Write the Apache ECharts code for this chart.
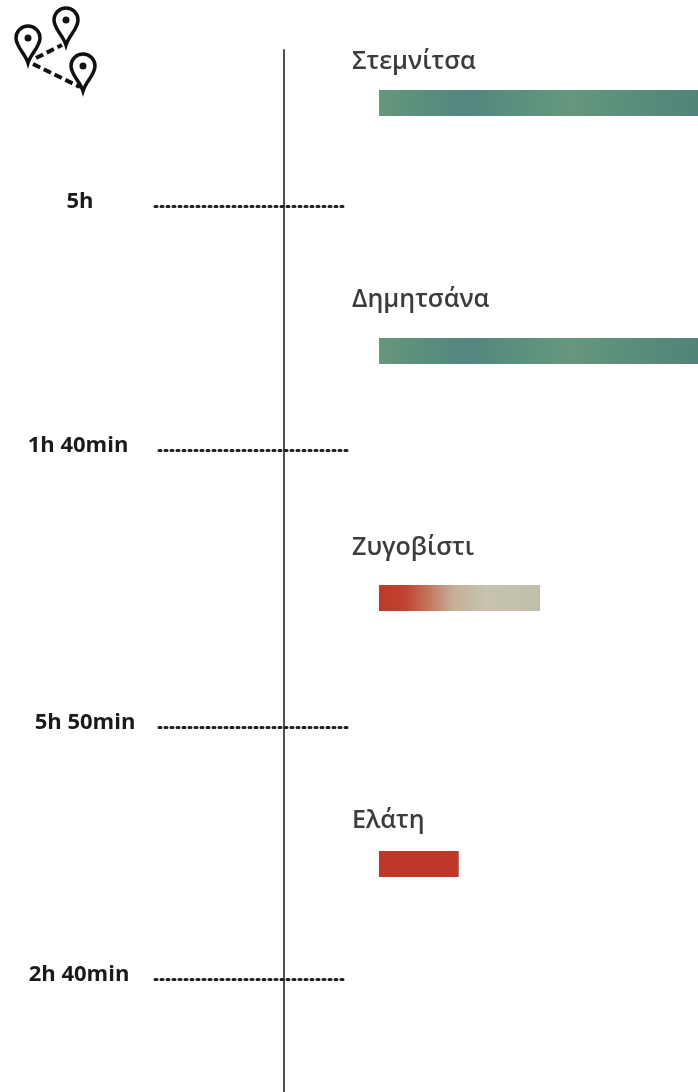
<!DOCTYPE html>
<html>
<head>
<meta charset="utf-8">
<style>
  html, body { margin: 0; padding: 0; background: #fff; }
  #chart { width: 698px; height: 1092px; }
</style>
<script src="https://cdn.jsdelivr.net/npm/echarts@6/dist/echarts.min.js"></script>
</head>
<body>
<div id="chart"></div>
<script>
// Data
const towns = ['Στεμνίτσα', 'Δημητσάνα', 'Ζυγοβίστι', 'Ελάτη']
const barLengths = [100, 100, 50.5, 25]
const legLabels = ['5h', '1h 40min', '5h 50min', '2h 40min']

// Layout, in page pixels
const barTop = [90, 338, 585, 851]
const barHeight = 26
const labelTop = [-28, -38, -37, -30]
const legY = [206, 450, 727, 979]
const legLeft = [155, 159, 159, 155]
const legLabelX = [80, 78, 85, 79]

// Bar colours, left to right
const greenStops = [
  [0, '#65977b'], [0.1, '#5c917c'], [0.27, '#528680'], [0.42, '#5a8f7e'],
  [0.6, '#66987e'], [0.8, '#598d7b'], [1, '#528379']
]
const fadeStops = [
  [0, '#bd3a28'], [0.16, '#bf4331'], [0.32, '#c47a62'], [0.46, '#c6ae97'],
  [0.66, '#c6c3ae'], [1, '#c1bea9']
]
const redStops = [[0, '#bd3829'], [1, '#bd3829']]
const barStops = [greenStops, greenStops, fadeStops, redStops]

const gradient = stops => new echarts.graphic.LinearGradient(0, 0, 1, 0,
  stops.map(s => ({ offset: s[0], color: s[1] })))

const chart = echarts.init(document.getElementById('chart'), null, { renderer: 'canvas' })

const grid = []
const xAxis = []
const yAxis = []
const series = []

// Route line
grid.push({ left: 284, width: 1, top: 50, bottom: 0 })
xAxis.push({ gridIndex: 0, type: 'value', show: false })
yAxis.push({
  gridIndex: 0, type: 'value', min: 0, max: 1,
  axisLine: { show: true, lineStyle: { color: '#4f4f4f', width: 2 } },
  axisTick: { show: false }, axisLabel: { show: false }, splitLine: { show: false }
})

// One grid per town
towns.forEach((town, i) => {
  const idx = grid.length
  grid.push({ left: 379, right: 0, top: barTop[i], height: barHeight })
  xAxis.push({ gridIndex: idx, type: 'value', min: 0, max: 100, show: false })
  yAxis.push({ gridIndex: idx, type: 'category', data: [town], show: false })
  series.push({
    type: 'bar',
    xAxisIndex: idx,
    yAxisIndex: idx,
    data: [barLengths[i]],
    barWidth: barHeight,
    itemStyle: { color: gradient(barStops[i]) },
    label: {
      show: true,
      formatter: town,
      position: [-27, labelTop[i]],
      align: 'left',
      verticalAlign: 'middle',
      fontFamily: 'Open Sans',
      fontSize: 25,
      fontWeight: 600,
      color: '#3c3c3c'
    }
  })
})

// One grid per leg, the dotted line is the x axis
legLabels.forEach((label, i) => {
  const idx = grid.length
  grid.push({ left: legLeft[i], width: 190, top: legY[i] - 8, height: 8 })
  xAxis.push({
    gridIndex: idx, type: 'value', min: 0, max: 1,
    axisLine: { show: true, onZero: false, lineStyle: { color: '#222', width: 3, type: [2, 4] } },
    axisTick: { show: false }, axisLabel: { show: false }, splitLine: { show: false }
  })
  yAxis.push({
    gridIndex: idx, type: 'category', data: [label],
    axisLine: { show: false }, axisTick: { show: false },
    axisLabel: {
      align: 'center',
      margin: legLeft[i] - legLabelX[i],
      fontFamily: 'Open Sans',
      fontSize: 22,
      fontWeight: 700,
      color: '#1a1a1a'
    }
  })
})

// Map pins icon
echarts.graphic.registerShape('pin', echarts.graphic.extendPath(
  'M-12 0A12 12 0 1 1 12 0C12 9 3 15 0 25C-3 15 -12 9 -12 0Z'))
const pin = (x, y) => ([
  { type: 'pin', x, y, style: { fill: 'none', stroke: '#111', lineWidth: 3.5 } },
  { type: 'circle', shape: { cx: x, cy: y, r: 3.5 }, style: { fill: '#111' } }
])
const dash = (x1, y1, x2, y2) => ({
  type: 'line', shape: { x1, y1, x2, y2 },
  style: { stroke: '#111', lineWidth: 4, lineDash: [8, 4] }
})

chart.setOption({
  animation: false,
  backgroundColor: '#fff',
  grid, xAxis, yAxis, series,
  graphic: [
    ...pin(28, 38), ...pin(66, 20), ...pin(83, 66),
    dash(36, 58, 62, 45),
    dash(33, 64, 80, 87)
  ]
})

window.addEventListener('resize', () => chart.resize())
</script>
</body>
</html>
